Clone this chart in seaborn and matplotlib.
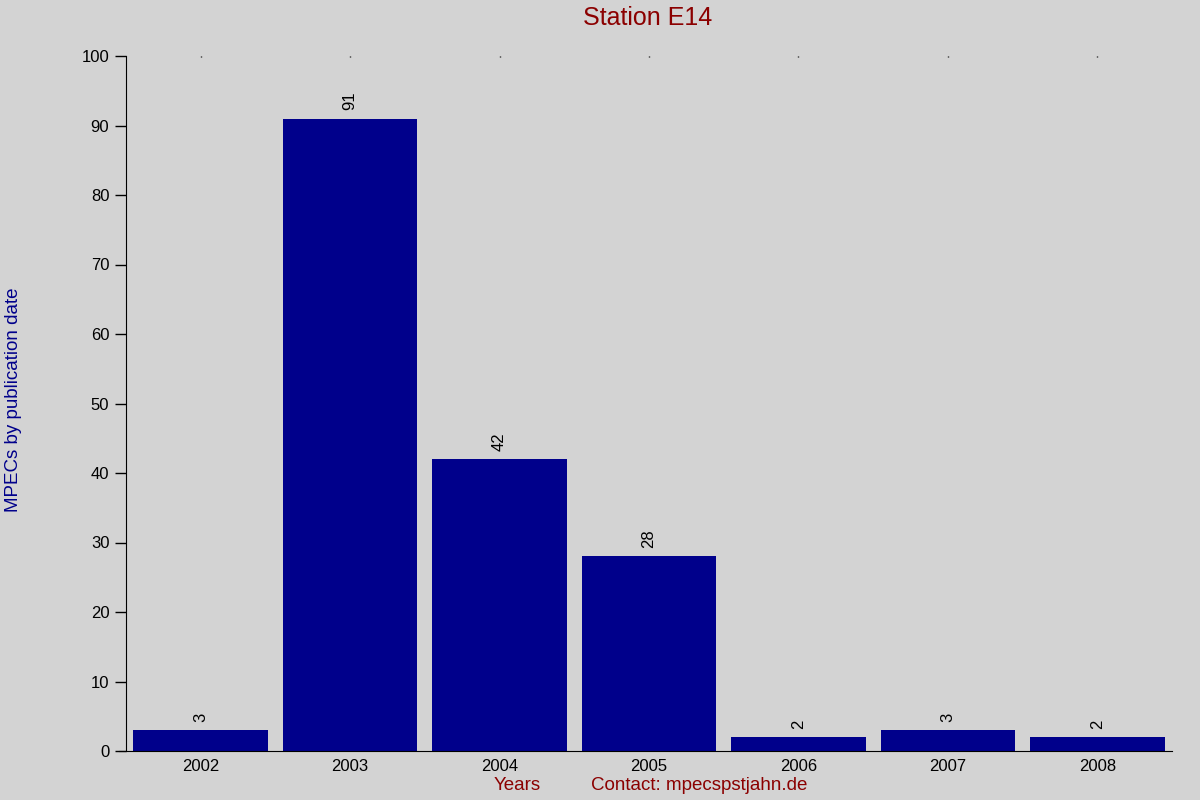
import matplotlib
matplotlib.use('Agg')
import matplotlib.pyplot as plt
import seaborn as sns
import pandas as pd

# data
years = ['2002', '2003', '2004', '2005', '2006', '2007', '2008']
mpecs = [3, 91, 42, 28, 2, 3, 2]

df = pd.DataFrame({'year': years, 'count': mpecs})

sns.set_style('white')
plt.rcParams['font.family'] = ['Liberation Sans', 'DejaVu Sans']
plt.rcParams['text.color'] = 'black'
plt.rcParams['xtick.color'] = 'black'
plt.rcParams['ytick.color'] = 'black'

fig = plt.figure(figsize=(12, 8), dpi=100, facecolor='#d3d3d3')
ax = fig.add_axes([0.105, 0.06125, 0.8717, 0.86875])
ax.set_facecolor('#d3d3d3')

sns.barplot(data=df, x='year', y='count', color='#00008b', width=0.9,
            saturation=1, linewidth=0, edgecolor='none', ax=ax)

# value labels above bars, rotated
for i, v in enumerate(mpecs):
    ax.text(i, v + 1.2, str(v), rotation=90, ha='center', va='bottom',
            fontsize=12, color='black')

ax.set_xlim(-0.5, 6.5)
ax.set_ylim(0, 100)
ax.set_yticks(range(0, 101, 10))

for s in ['top', 'right']:
    ax.spines[s].set_visible(False)
ax.spines['left'].set_color('black')
ax.spines['bottom'].set_color('black')
ax.spines['bottom'].set_bounds(-0.55, 6.5)

ax.tick_params(axis='y', left=True, length=8, width=1, colors='black',
               labelsize=12, pad=4)
ax.tick_params(axis='x', bottom=False, top=True, direction='in', length=1,
               width=1, colors='black', labelsize=12, pad=6)

ax.set_xlabel('')
ax.set_ylabel('')

fig.text(0.54, 0.977, 'Station E14', ha='center', va='center',
         fontsize=18, color='#8b0000')
fig.text(0.011, 0.5, 'MPECs by publication date', rotation=90,
         ha='center', va='center', fontsize=13.5, color='#00008b')
fig.text(0.431, 0.018, 'Years', ha='center', va='center',
         fontsize=13.5, color='#8b0000')
fig.text(0.5825, 0.018, 'Contact: mpecspstjahn.de', ha='center', va='center',
         fontsize=13.5, color='#8b0000')

fig.savefig('out.png', dpi=100, facecolor=fig.get_facecolor())
